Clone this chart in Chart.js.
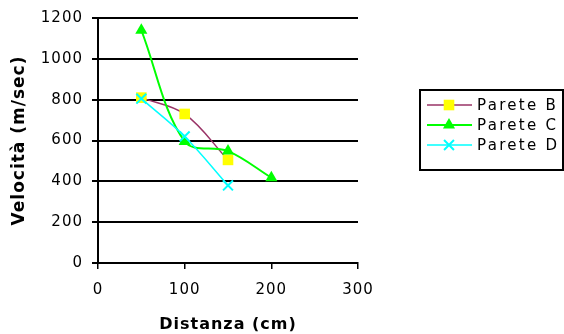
<!DOCTYPE html>
<html><head><meta charset="utf-8">
<script src="https://cdn.jsdelivr.net/npm/chart.js@4/dist/chart.umd.min.js"></script>
<style>html,body{margin:0;padding:0;background:#fff;}#wrap{width:564px;height:334px;}</style>
</head><body><div id="wrap"><canvas id="c" width="564" height="334"></canvas></div>
<script>
// ---- data ----
const seriesNames = ['Parete B', 'Parete C', 'Parete D'];
const xB = [50, 100, 150];
const yB = [810, 730, 505];
const xC = [50, 100, 150, 200];
const yC = [1140, 595, 548, 418];
const xD = [50, 100, 150];
const yD = [805, 620, 380];
const xTicks = [0, 100, 200, 300];
const yTicks = [0, 200, 400, 600, 800, 1000, 1200];
const xTitle = 'Distanza (cm)';
const yTitle = 'Velocità (m/sec)';

const FONT = '"DejaVu Sans", Verdana, sans-serif';
const pts = (xs, ys) => xs.map((x, i) => ({x: x, y: ys[i]}));

const spacingPlugin = {
  id: 'spacing',
  beforeUpdate(chart) { chart.ctx.letterSpacing = '1px'; },
  beforeDraw(chart) { chart.ctx.letterSpacing = '1px'; }
};

const legendPlugin = {
  id: 'boxLegend',
  afterDraw(chart) {
    const ctx = chart.ctx;
    ctx.save();
    ctx.lineWidth = 2;
    ctx.strokeStyle = '#000';
    ctx.strokeRect(420, 90, 143, 80);
    chart.data.datasets.forEach((ds, i) => {
      const y = 105 + i * 20;
      ctx.strokeStyle = ds.borderColor;
      ctx.lineWidth = ds.borderWidth;
      ctx.beginPath(); ctx.moveTo(427, y); ctx.lineTo(472, y); ctx.stroke();
      ctx.fillStyle = ds.pointBackgroundColor;
      ctx.strokeStyle = ds.pointBorderColor;
      ctx.lineWidth = ds.pointBorderWidth;
      Chart.helpers.drawPoint(ctx, {pointStyle: ds.pointStyle, radius: ds.pointRadius, borderWidth: ds.pointBorderWidth, rotation: 0}, 449, y);
      ctx.fillStyle = '#000';
      ctx.letterSpacing = '2.3px';
      ctx.font = '15px ' + FONT;
      ctx.textBaseline = 'middle';
      ctx.textAlign = 'left';
      ctx.fillText(ds.label, 477, y + 1);
    });
    ctx.restore();
  }
};

new Chart(document.getElementById('c'), {
  type: 'line',
  data: {
    datasets: [
      {label: seriesNames[0], data: pts(xB, yB), borderColor: '#993366', borderWidth: 1.5,
       pointStyle: 'rect', pointRadius: 7.5, pointBackgroundColor: '#FFFF00', pointBorderColor: '#FFFF00', pointBorderWidth: 0,
       tension: 0.35, order: 2},
      {label: seriesNames[1], data: pts(xC, yC), borderColor: '#00FF00', borderWidth: 2,
       pointStyle: 'triangle', pointRadius: 7, pointBackgroundColor: '#00FF00', pointBorderColor: '#00FF00', pointBorderWidth: 0,
       tension: 0.35, order: 1},
      {label: seriesNames[2], data: pts(xD, yD), borderColor: '#00FFFF', borderWidth: 1.5,
       pointStyle: 'crossRot', pointRadius: 7, pointBackgroundColor: '#00FFFF', pointBorderColor: '#00FFFF', pointBorderWidth: 2,
       tension: 0.35, order: 0}
    ]
  },
  options: {
    responsive: false,
    animation: false,
    devicePixelRatio: 1,
    layout: {padding: {top: 16, right: 206, left: 0, bottom: 0}},
    plugins: {legend: {display: false}, tooltip: {enabled: false}},
    scales: {
      x: {
        type: 'linear', min: 0, max: 300,
        afterBuildTicks: s => { s.ticks = xTicks.map(v => ({value: v})); },
        afterFit: s => { s.height = 71; },
        grid: {drawOnChartArea: false, drawTicks: true, tickLength: 6, color: '#000', lineWidth: 1.5},
        border: {color: '#000', width: 2},
        ticks: {color: '#000', font: {family: FONT, size: 15}, padding: 12, maxRotation: 0, callback: v => String(v)},
        title: {display: true, text: xTitle, color: '#000', font: {family: FONT, size: 16, weight: 'bold'}, padding: {top: 0, bottom: 0}}
      },
      y: {
        type: 'linear', min: 0, max: 1200,
        afterBuildTicks: s => { s.ticks = yTicks.map(v => ({value: v})); },
        afterFit: s => { s.width = 98; },
        grid: {drawTicks: true, tickLength: 6, color: '#000', lineWidth: 2},
        border: {color: '#000', width: 2},
        ticks: {color: '#000', font: {family: FONT, size: 15}, padding: 9, callback: v => String(v)},
        title: {display: true, text: yTitle, color: '#000', font: {family: FONT, size: 17, weight: 'bold'}, padding: {top: 9, bottom: 0}}
      }
    }
  },
  plugins: [spacingPlugin, legendPlugin]
});
</script>
</body></html>
